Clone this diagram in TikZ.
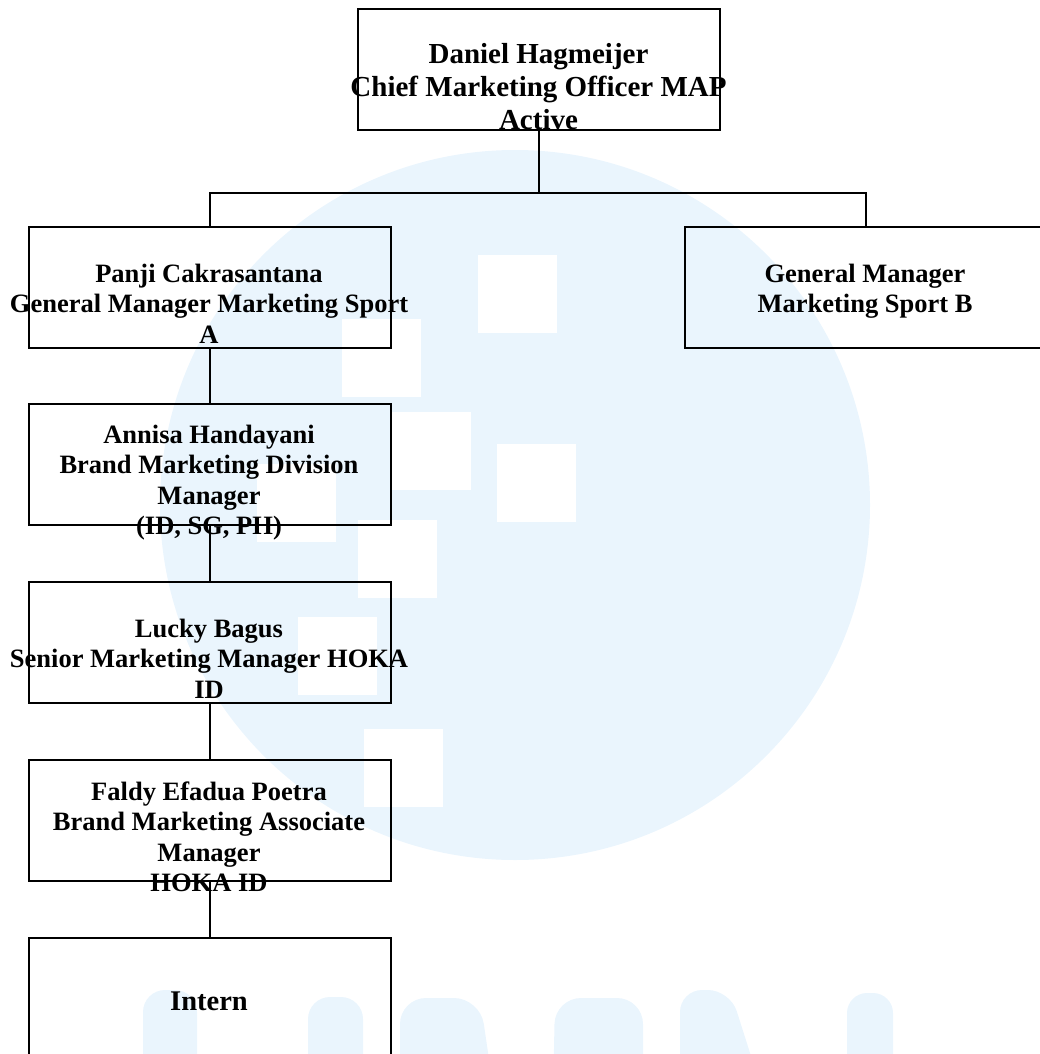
\documentclass[tikz,border=0pt]{standalone}
\usepackage{fontspec}
\setmainfont{Liberation Serif}
\definecolor{wm}{RGB}{234,245,253}
\begin{document}
\begin{tikzpicture}[x=1pt,y=-1pt,
  box/.style={draw=black, line width=1.8pt, minimum width=362pt, minimum height=121pt, inner sep=0pt, anchor=north west},
  lbl/.style={anchor=base, inner sep=0pt, font={\fontsize{26.5}{30.5}\selectfont\bfseries}},
  lblbig/.style={anchor=base, inner sep=0pt, font={\fontsize{29}{33}\selectfont\bfseries}},
  conn/.style={draw=black, line width=1.8pt}]
\useasboundingbox (0,0) rectangle (1039,1054);
% watermark
\fill[wm] (515,505) circle (355);
\foreach \x/\y in {478/255,342/319,392/412,497/444,257/464,358/520,298/617,364/729}
  \fill[white] (\x,\y) rectangle ++(79,78);
\fill[wm, rounded corners=22pt] (143,1100) -- (143,990) -- (197,990) -- (197,1100) -- cycle;
\fill[wm, rounded corners=22pt] (308,1100) -- (308,997) -- (363,997) -- (363,1100) -- cycle;
\fill[wm, rounded corners=26pt] (400,1100) -- (400,998) -- (480,998) -- (495,1100) -- cycle;
\fill[wm, rounded corners=26pt] (553,1100) -- (555,998) -- (643,998) -- (643,1100) -- cycle;
\fill[wm, rounded corners=22pt] (680,1100) -- (680,990) -- (730,990) -- (765,1100) -- cycle;
\fill[wm, rounded corners=20pt] (847,1100) -- (847,993) -- (893,993) -- (893,1100) -- cycle;
% boxes
\node[box] (top) at (357,8) {};
\node[box] (panji) at (28,226) {};
\node[box] (gmb) at (684,226) {};
\node[box] (annisa) at (28,403) {};
\node[box] (lucky) at (28,581) {};
\node[box] (faldy) at (28,759) {};
\node[box] (intern) at (28,937) {};
% connectors
\coordinate (bus) at (top.south |- 0,193);
\draw[conn] (top.south) -- (bus);
\draw[conn] (bus) -| (panji.north);
\draw[conn] (bus) -| (gmb.north);
\draw[conn] (panji.south) -- (annisa.north);
\draw[conn] (annisa.south) -- (lucky.north);
\draw[conn] (lucky.south) -- (faldy.north);
\draw[conn] (faldy.south) -- (intern.north);
% labels
\node[lblbig] (ttop) at (538.5,64) {\begin{tabular}[t]{@{}c@{}}Daniel Hagmeijer\\Chief Marketing Officer MAP\\Active\end{tabular}};
\node[lbl] (tpanji) at (209,282) {\begin{tabular}[t]{@{}c@{}}Panji Cakrasantana\\General Manager Marketing Sport\\A\end{tabular}};
\node[lbl] (tgmb) at (865,282) {\begin{tabular}[t]{@{}c@{}}General Manager\\Marketing Sport B\end{tabular}};
\node[lbl] (tannisa) at (209,443) {\begin{tabular}[t]{@{}c@{}}Annisa Handayani\\Brand Marketing Division\\Manager\\(ID, SG, PH)\end{tabular}};
\node[lbl] (tlucky) at (209,637) {\begin{tabular}[t]{@{}c@{}}Lucky Bagus\\Senior Marketing Manager HOKA\\ID\end{tabular}};
\node[lbl] (tfaldy) at (209,800) {\begin{tabular}[t]{@{}c@{}}Faldy Efadua Poetra\\Brand Marketing Associate\\Manager\\HOKA ID\end{tabular}};
\node[anchor=base, inner sep=0pt, font={\fontsize{28.5}{32}\selectfont\bfseries}] (tintern) at (209,1010) {Intern};
\end{tikzpicture}
\end{document}
